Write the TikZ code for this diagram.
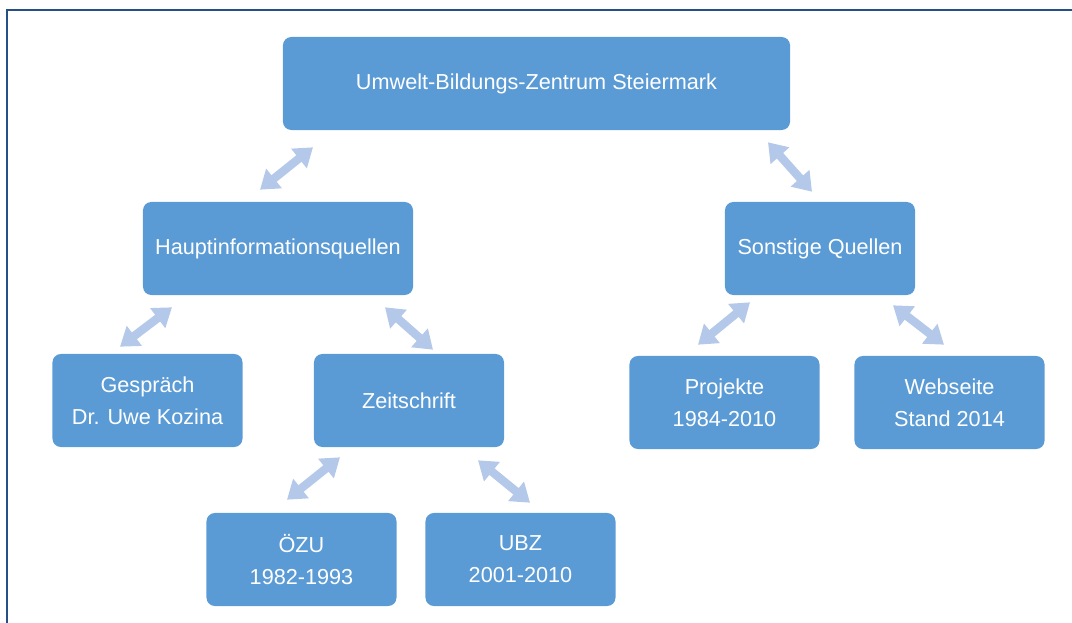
\documentclass[tikz,border=0pt]{standalone}
\usepackage{fontspec}
\setmainfont{Liberation Sans}
\usetikzlibrary{arrows.meta,positioning,calc}
\definecolor{boxfill}{RGB}{91,155,213}
\definecolor{linkblue}{RGB}{180,201,233}
\definecolor{framecol}{RGB}{37,79,135}
\tikzset{
  basebox/.style={rectangle,rounded corners=6pt,fill=boxfill,draw=none,text=white,align=center,inner sep=0pt,font=\fontsize{15.4}{22.7}\selectfont},
  topnode/.style={basebox,minimum width=12.675cm,minimum height=2.325cm},
  widenode/.style={basebox,minimum width=6.75cm,minimum height=2.325cm},
  leafnode/.style={basebox,minimum width=4.75cm,minimum height=2.325cm},
  linkarr/.style={{Triangle[width=0.6cm,length=0.45cm]}-{Triangle[width=0.6cm,length=0.45cm]},line width=0.21cm,color=linkblue},
  framelin/.style={draw=framecol,line width=0.06cm}
}

\begin{document}
\begin{tikzpicture}[x=0.025cm,y=-0.025cm]
  \useasboundingbox (0,0) rectangle (1072,623);

  %% FRAME
  \coordinate (frbl) at (7,630);
  \coordinate (frtl) at (7,10);
  \coordinate (frtr) at (1080,10);
  \draw[framelin] (frbl) -- (frtl) -- (frtr);

  %% LEVEL 0
  \node[topnode] (ubz) at (536.5,83.5) {Umwelt-Bildungs-Zentrum Steiermark};

  %% LEVEL 1
  \node[widenode] (haupt) at (278,248.5) {Hauptinformationsquellen};
  \node[leafnode] (sonst) at (820,248.5) {Sonstige Quellen};

  %% LEVEL 2
  \node[leafnode] (gespr) at (147.5,400.5) {Gespräch\\Dr. Uwe Kozina};
  \node[leafnode] (zeit) at (409,400.5) {Zeitschrift};
  \node[leafnode] (proj) at (724.5,402.5) {Projekte\\1984-2010};
  \node[leafnode] (web) at (949.5,402.5) {Webseite\\Stand 2014};

  %% LEVEL 3
  \node[leafnode] (oezu) at (301.5,559.5) {ÖZU\\1982-1993};
  \node[leafnode] (ubzz) at (520.5,559.5) {UBZ\\2001-2010};

  %% CONNECTIONS
  \draw[linkarr] ([shift={(-223.5,17)}]ubz.south) -- ([shift={(-18,-12)}]haupt.north);
  \draw[linkarr] ([shift={(231.5,12)}]ubz.south) -- ([shift={(-8,-10)}]sonst.north);
  \draw[linkarr] ([shift={(-106,12)}]haupt.south) -- ([shift={(-27.5,-7)}]gespr.north);
  \draw[linkarr] ([shift={(107,12)}]haupt.south) -- ([shift={(24,-4)}]zeit.north);
  \draw[linkarr] ([shift={(-69,10)}]zeit.south) -- ([shift={(-14.5,-13)}]oezu.north);
  \draw[linkarr] ([shift={(69,13)}]zeit.south) -- ([shift={(9.5,-10)}]ubzz.north);
  \draw[linkarr] ([shift={(-70,7)}]sonst.south) -- ([shift={(-26.5,-11)}]proj.north);
  \draw[linkarr] ([shift={(73,10)}]sonst.south) -- ([shift={(-5.5,-11)}]web.north);
\end{tikzpicture}
\end{document}
